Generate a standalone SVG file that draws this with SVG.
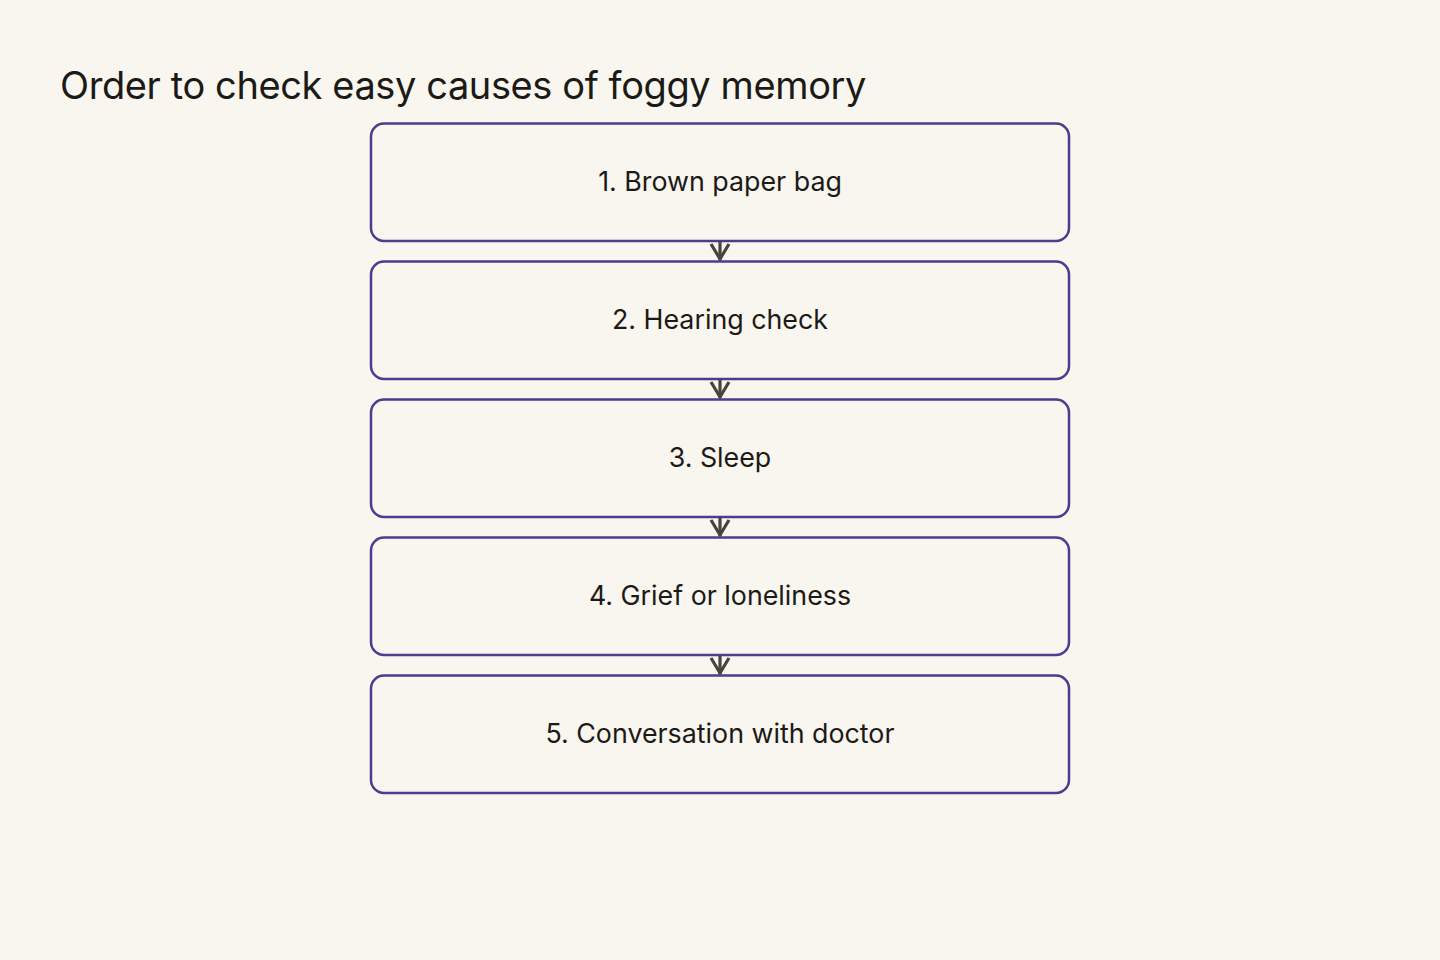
<svg xmlns="http://www.w3.org/2000/svg" width="1440" height="960" viewBox="0 0 1440 960">
<defs>
<style>
.bg{fill:#f9f5ef}
.title{font-family:Inter,"Liberation Sans",sans-serif;font-size:38px;letter-spacing:-0.4px;fill:#1c1a17}
.box{fill:#f9f5ef;stroke:#483d8f;stroke-width:2.5}
.lbl{font-family:Inter,"Liberation Sans",sans-serif;font-size:26.8px;fill:#1c1a17;text-anchor:middle}
.conn{stroke:#46443c;stroke-width:3.2;fill:none}
</style>
</defs>
<rect class="bg" width="1440" height="960"/>
<text class="title" x="60" y="99">Order to check easy causes of foggy memory</text>
<g id="connectors">
<line class="conn" x1="720" y1="241" x2="720" y2="260"/>
<line class="conn" x1="720" y1="379" x2="720" y2="398"/>
<line class="conn" x1="720" y1="517" x2="720" y2="536"/>
<line class="conn" x1="720" y1="655" x2="720" y2="674"/>
<path class="conn" d="M711,244 L720,259 L729,244 M711,382 L720,397 L729,382 M711,520 L720,535 L729,520 M711,658 L720,673 L729,658"/>
</g>
<g id="node1"><rect class="box" x="371" y="123.5" width="698" height="117.5" rx="13"/><text class="lbl" x="720" y="191">1. Brown paper bag</text></g>
<g id="node2"><rect class="box" x="371" y="261.5" width="698" height="117.5" rx="13"/><text class="lbl" x="720" y="329">2. Hearing check</text></g>
<g id="node3"><rect class="box" x="371" y="399.5" width="698" height="117.5" rx="13"/><text class="lbl" x="720" y="467">3. Sleep</text></g>
<g id="node4"><rect class="box" x="371" y="537.5" width="698" height="117.5" rx="13"/><text class="lbl" x="720" y="605">4. Grief or loneliness</text></g>
<g id="node5"><rect class="box" x="371" y="675.5" width="698" height="117.5" rx="13"/><text class="lbl" x="720" y="743">5. Conversation with doctor</text></g>
</svg>
